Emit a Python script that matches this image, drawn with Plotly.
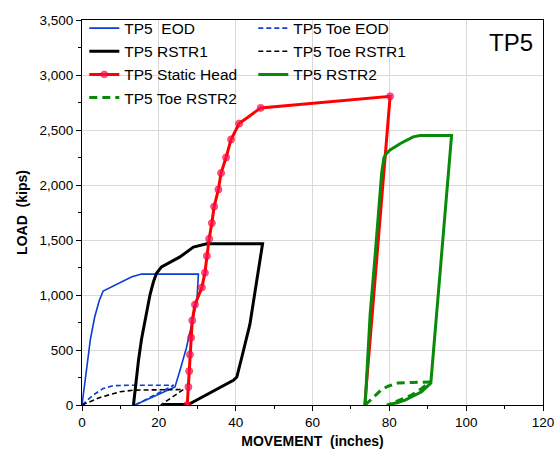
import plotly.graph_objects as go

# ---- data ----
eod_x = [0, 1.2, 2.2, 3.3, 4.5, 5.5, 8.0, 13.0, 15.5, 30.3, 29.9, 27.2, 25.5, 24.2, 13.8]
eod_y = [0, 350, 600, 800, 950, 1035, 1080, 1165, 1190, 1190, 942, 523, 314, 164, 0]

toe_eod_x = [0, 2.9, 5.5, 8.1, 12.0, 23.9, 13.8]
toe_eod_y = [0, 90, 150, 175, 180, 180, 0]

rstr1_x = [13.4, 14.0, 14.7, 15.5, 16.4, 17.7, 18.6, 19.4, 20.7, 23.0, 25.5, 29.0, 32.5, 47.0, 45.9, 43.7, 41.6, 40.3, 39.4, 29.0, 27.7, 21.0]
rstr1_y = [0, 200, 404, 600, 763, 1002, 1120, 1197, 1256, 1300, 1346, 1436, 1465, 1465, 1212, 733, 434, 254, 224, 30, 5, 5]

toe_rstr1_x = [0, 4.7, 9.9, 13.4, 26.4, 20.5]
toe_rstr1_y = [0, 69, 120, 135, 141, 0]

static_x = [27.4, 27.7, 27.9, 28.1, 28.4, 28.7, 29.4, 31.2, 32.0, 32.5, 33.1, 33.8, 34.4, 35.5, 36.2, 37.5, 38.8, 40.9, 46.5, 80.2, 73.6]
static_y = [0, 164, 308, 458, 613, 769, 913, 1068, 1202, 1355, 1511, 1654, 1804, 1959, 2109, 2250, 2414, 2558, 2701, 2806, 0]

rstr2_x = [73.7, 74.4, 75.0, 76.3, 77.2, 78.0, 78.6, 79.3, 80.2, 83.0, 86.2, 88.0, 96.2, 90.8, 88.4, 86.0, 84.1, 82.0, 80.2, 79.3]
rstr2_y = [0, 400, 825, 1361, 1750, 2109, 2250, 2288, 2318, 2380, 2438, 2450, 2450, 200, 120, 80, 45, 20, 5, 0]

toe_rstr2_x = [73.7, 75.0, 76.3, 78.0, 79.7, 82.3, 86.0, 90.6, 88.4, 85.8, 82.3, 80.2]
toe_rstr2_y = [0, 45, 90, 140, 171, 200, 205, 209, 150, 90, 39, 10]

FONT = "Liberation Sans, Arial, sans-serif"
BLUE = "#0a3fd0"
GREEN = "#0a8a0a"

fig = go.Figure()
fig.add_trace(go.Scatter(x=eod_x, y=eod_y, mode="lines", name="TP5\u00a0\u00a0EOD",
                         line=dict(color=BLUE, width=1.6)))
fig.add_trace(go.Scatter(x=toe_eod_x, y=toe_eod_y, mode="lines", name="TP5 Toe EOD",
                         line=dict(color=BLUE, width=1.6, dash="5px,3px")))
fig.add_trace(go.Scatter(x=rstr1_x, y=rstr1_y, mode="lines", name="TP5 RSTR1",
                         line=dict(color="black", width=3)))
fig.add_trace(go.Scatter(x=toe_rstr1_x, y=toe_rstr1_y, mode="lines", name="TP5 Toe RSTR1",
                         line=dict(color="black", width=1.6, dash="5px,3px")))
sizes = [7] * (len(static_x) - 1) + [0]
fig.add_trace(go.Scatter(x=static_x, y=static_y, mode="lines+markers", name="TP5 Static Head",
                         line=dict(color="#ff0000", width=3),
                         marker=dict(color="#ff0a6a", size=sizes)))
fig.add_trace(go.Scatter(x=rstr2_x, y=rstr2_y, mode="lines", name="TP5 RSTR2",
                         line=dict(color=GREEN, width=3)))
fig.add_trace(go.Scatter(x=toe_rstr2_x, y=toe_rstr2_y, mode="lines", name="TP5 Toe RSTR2",
                         line=dict(color=GREEN, width=3, dash="8px,5px")))

axis_common = dict(
    showline=True, linecolor="black", linewidth=1, mirror=True,
    ticks="outside", ticklen=5, tickcolor="black",
    showgrid=True, gridcolor="#d9d9d9", gridwidth=1,
    zeroline=False, automargin=False,
    tickfont=dict(family=FONT, size=13.5, color="black"),
)

fig.update_layout(
    width=556, height=460,
    margin=dict(l=82, r=13, t=15, b=55),
    paper_bgcolor="white", plot_bgcolor="white",
    font=dict(family=FONT, color="black"),
    xaxis=dict(range=[0, 120], dtick=20, tick0=0,
               minor=dict(dtick=10, ticks="outside", ticklen=3, tickcolor="black", showgrid=False),
               title=dict(text="<b>MOVEMENT\u00a0\u00a0(inches)</b>", font=dict(family=FONT, size=14), standoff=6),
               **axis_common),
    yaxis=dict(range=[0, 3500], dtick=500, tick0=0, tickformat=",",
               minor=dict(dtick=250, ticks="outside", ticklen=3, tickcolor="black", showgrid=False),
               title=dict(text="<b>LOAD\u00a0\u00a0(kips)</b>", font=dict(family=FONT, size=14), standoff=8),
               **axis_common),
    showlegend=True,
    legend=dict(orientation="h", x=0.005, y=1.022, xanchor="left", yanchor="top",
                entrywidth=124, entrywidthmode="pixels",
                font=dict(family=FONT, size=15.5, color="black"),
                bgcolor="rgba(0,0,0,0)", itemwidth=30, traceorder="normal"),
    annotations=[dict(text="TP5", x=0.931, y=0.941, xref="paper", yref="paper",
                      xanchor="center", yanchor="middle",
                      showarrow=False, font=dict(family=FONT, size=24, color="black"))],
)

fig.write_html("out.html", config={"displayModeBar": False},
               post_script="document.body.style.margin='0';document.body.style.overflow='hidden';")
